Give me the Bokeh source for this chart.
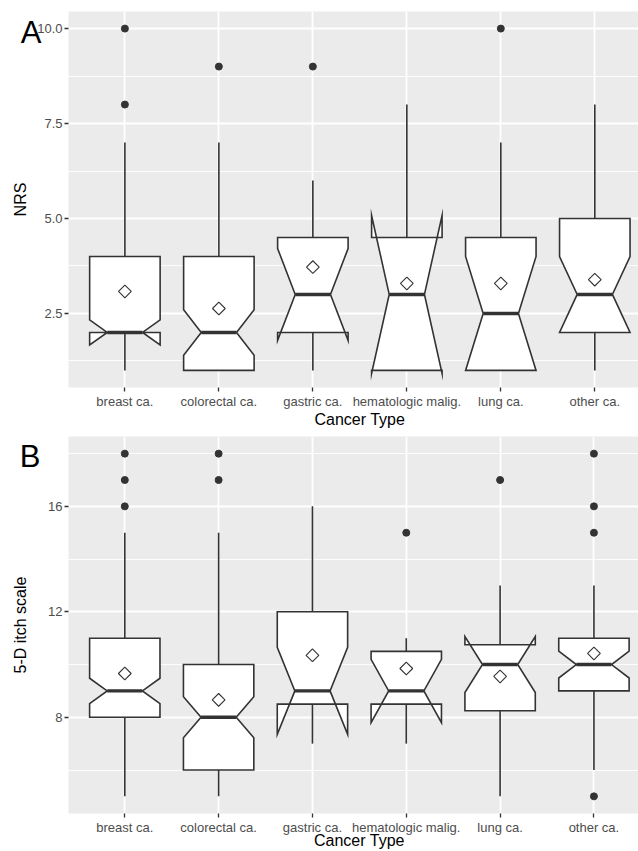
import numpy as np
from bokeh.plotting import figure
from bokeh.models import FixedTicker, Range1d, NumeralTickFormatter, LinearAxis
from bokeh.layouts import column
from bokeh.embed import file_html
from bokeh.resources import INLINE

# ---------------- data ----------------
categories = ["breast ca.", "colorectal ca.", "gastric ca.", "hematologic malig.", "lung ca.", "other ca."]
x_title = "Cancer Type"

# Panel A: NRS
a_whisker_low = [1, 1, 1, 1, 1, 1]
a_q1 = [2, 1, 2, 1, 1, 2]
a_median = [2, 2, 3, 3, 2.5, 3]
a_q3 = [4, 4, 4.5, 4.5, 4.5, 5]
a_whisker_high = [7, 7, 6, 8, 7, 8]
a_notch_low = [1.67, 1.4, 1.79, 0.92, 1.0, 2.0]
a_notch_high = [2.33, 2.6, 4.21, 5.08, 4.0, 4.0]
a_mean = [3.08, 2.63, 3.72, 3.29, 3.29, 3.39]
a_outliers = [[8, 10], [9], [9], [], [10], []]
a_ticks = [2.5, 5.0, 7.5, 10.0]
a_minor = [1.25, 3.75, 6.25, 8.75]

# Panel B: 5-D itch scale
b_whisker_low = [5, 5, 7, 7, 5, 6]
b_q1 = [8, 6, 8.5, 8.5, 8.25, 9]
b_median = [9, 8, 9, 9, 10, 10]
b_q3 = [11, 10, 12, 10.5, 10.75, 11]
b_whisker_high = [15, 15, 16, 11, 13, 13]
b_notch_low = [8.52, 7.22, 7.35, 7.8, 8.94, 9.49]
b_notch_high = [9.48, 8.78, 10.65, 10.2, 11.06, 10.51]
b_mean = [9.66, 8.66, 10.35, 9.85, 9.55, 10.42]
b_outliers = [[16, 17, 18], [17, 18], [], [15], [17], [5, 15, 16, 18]]
b_ticks = [8, 12, 16]
b_minor = [6, 10, 14, 18]

FONT = "Liberation Sans"
DARK = "#333333"
BOX_W = 0.75
NOTCH_W = 0.5


def plain_axis(ax):
    ax.axis_line_color = None
    ax.major_tick_line_color = None
    ax.major_tick_out = 0
    ax.major_tick_in = 0
    ax.minor_tick_line_color = None
    ax.major_label_text_font = FONT
    ax.major_label_text_color = "black"


def make_panel(letter, letter_y, letter_standoff, ylabel, ylabel_standoff, yrange, xend,
               ticks, minor, fmt, lo, q1, med, q3, hi, nlo, nhi, means, outliers,
               height, b_left, b_top, b_bottom, title_standoff):
    p = figure(width=638, height=height, output_backend="svg", toolbar_location=None,
               x_range=Range1d(0.4, xend), y_range=Range1d(*yrange),
               min_border_left=b_left, min_border_right=0, min_border_top=b_top,
               min_border_bottom=b_bottom)
    p.background_fill_color = "#EBEBEB"
    p.border_fill_color = "white"
    p.outline_line_color = None

    xpos = list(range(1, len(categories) + 1))
    p.xaxis.ticker = FixedTicker(ticks=xpos)
    p.xaxis.major_label_overrides = {i + 1: c for i, c in enumerate(categories)}
    p.yaxis.ticker = FixedTicker(ticks=ticks, minor_ticks=minor)
    if fmt:
        p.yaxis.formatter = NumeralTickFormatter(format=fmt)

    for ax in (p.xaxis[0], p.yaxis[0]):
        ax.axis_line_color = None
        ax.major_tick_line_color = DARK
        ax.major_tick_line_width = 1.3
        ax.major_tick_out = 4
        ax.major_tick_in = 0
        ax.minor_tick_line_color = None
        ax.major_label_text_font = FONT
        ax.major_label_text_font_size = "13px"
        ax.major_label_text_color = "#4D4D4D"
        ax.major_label_standoff = 2
        ax.axis_label_text_font = FONT
        ax.axis_label_text_font_size = "16px"
        ax.axis_label_text_font_style = "normal"
        ax.axis_label_text_color = "black"
    p.yaxis.axis_label = ylabel
    p.yaxis.axis_label_standoff = ylabel_standoff

    # panel letter (outer left axis carrying one label)
    lax = LinearAxis(ticker=FixedTicker(ticks=[letter_y]),
                     major_label_overrides={letter_y: letter})
    plain_axis(lax)
    lax.major_label_text_font_size = "31px"
    lax.major_label_standoff = letter_standoff
    p.add_layout(lax, "left")

    # x-axis title (outer bottom axis, centred on the full category span)
    tax = LinearAxis(ticker=FixedTicker(ticks=[3.5]), major_label_overrides={3.5: x_title})
    plain_axis(tax)
    tax.major_label_text_font_size = "16px"
    tax.major_label_standoff = title_standoff
    p.add_layout(tax, "below")

    p.xgrid.grid_line_color = "white"
    p.xgrid.grid_line_width = 1.8
    p.ygrid.grid_line_color = "white"
    p.ygrid.grid_line_width = 1.8
    p.ygrid.minor_grid_line_color = "white"
    p.ygrid.minor_grid_line_width = 0.9

    # whiskers
    p.segment(x0=xpos, y0=q3, x1=xpos, y1=hi, line_color=DARK, line_width=1.6)
    p.segment(x0=xpos, y0=lo, x1=xpos, y1=q1, line_color=DARK, line_width=1.6)

    # notched boxes (ggplot-style polygon)
    half = BOX_W / 2
    indent = (1 - NOTCH_W) * BOX_W / 2
    xs_poly, ys_poly = [], []
    for i, x in enumerate(xpos):
        xmin, xmax = x - half, x + half
        xs_poly.append([xmin, xmin, xmin + indent, xmin, xmin,
                        xmax, xmax, xmax - indent, xmax, xmax])
        ys_poly.append([q3[i], nhi[i], med[i], nlo[i], q1[i],
                        q1[i], nlo[i], med[i], nhi[i], q3[i]])
    p.patches(xs_poly, ys_poly, fill_color="white", line_color=DARK, line_width=1.6,
              line_join="miter")

    # medians
    p.segment(x0=[x - half + indent for x in xpos], y0=med,
              x1=[x + half - indent for x in xpos], y1=med,
              line_color=DARK, line_width=3.4)

    # outliers
    ox, oy = [], []
    for x, vals in zip(xpos, outliers):
        for v in vals:
            ox.append(x)
            oy.append(v)
    p.scatter(ox, oy, size=7, fill_color=DARK, line_color=DARK)

    # means (open diamonds)
    p.scatter(xpos, means, marker="square", angle=np.pi / 4, size=9,
              fill_color=None, line_color=DARK, line_width=1.1)
    return p


pA = make_panel("A", 9.9, -32, "NRS", 5, (0.55, 10.45), 6.465, a_ticks, a_minor, "0.0",
                a_whisker_low, a_q1, a_median, a_q3, a_whisker_high,
                a_notch_low, a_notch_high, a_mean, a_outliers,
                height=431, b_left=68, b_top=11, b_bottom=44, title_standoff=-1)

pB = make_panel("B", 17.9, -31, "5-D itch scale", 16, (4.35, 18.65), 6.475, b_ticks, b_minor, None,
                b_whisker_low, b_q1, b_median, b_q3, b_whisker_high,
                b_notch_low, b_notch_high, b_mean, b_outliers,
                height=420, b_left=57, b_top=5, b_bottom=38, title_standoff=-6)

layout = column(pA, pB, spacing=0)
open("out.html", "w").write(file_html(layout, INLINE))
